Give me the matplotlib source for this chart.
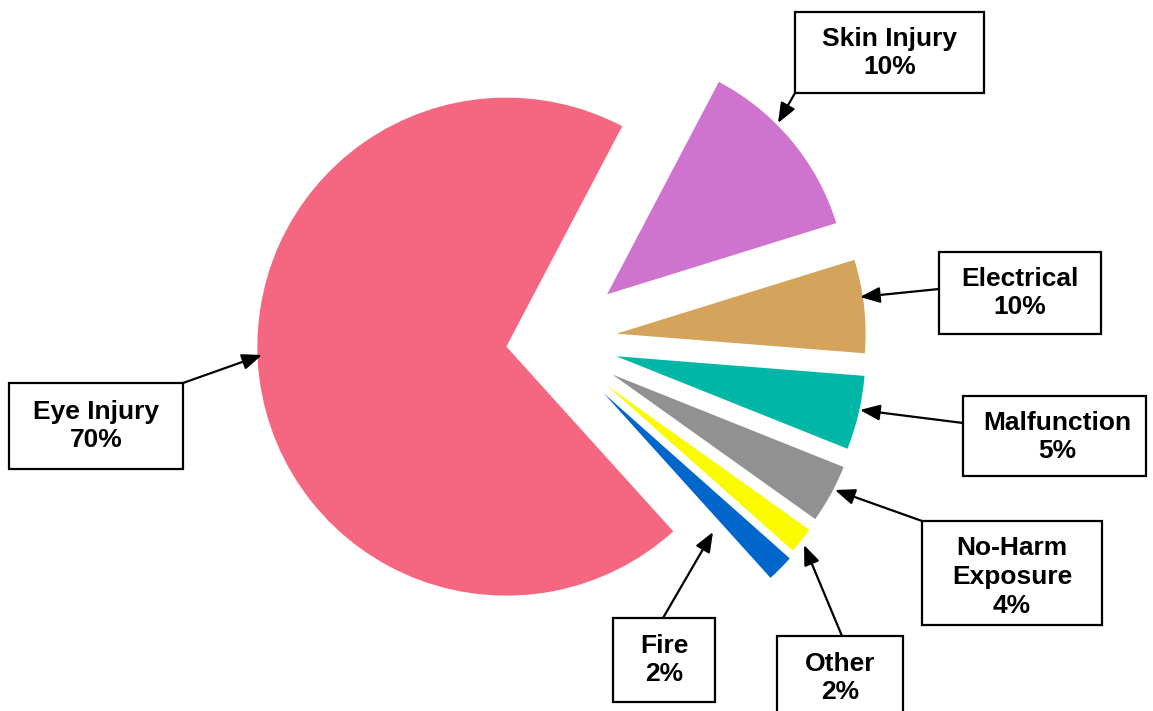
import matplotlib.pyplot as plt
from matplotlib.patches import Rectangle

# slices, listed clockwise on screen starting from the lower right
categories = ['Fire', 'Other', 'No-Harm\nExposure', 'Malfunction', 'Electrical', 'Skin Injury', 'Eye Injury']
shares = [1.75, 1.7, 3.8, 4.8, 6.05, 12.5, 69.4]
pct_labels = ['2%', '2%', '4%', '5%', '10%', '10%', '70%']
colors = ['#0066CC', '#FAFA00', '#919191', '#00B7A6', '#D4A45C', '#CE73CE', '#F56780']
# pie() shifts wedges by explode in data units (pixels here)
explode = [74, 71, 70, 67, 66, 73, 45]

# label boxes (x0, y0, x1, y1 in pixels), text centre, arrow start, arrow tip
boxes = [
    (613, 618, 715, 702), (777, 636, 903, 725), (922, 521, 1102, 625),
    (963, 396, 1146, 476), (939, 252, 1101, 334), (795, 12, 984, 93),
    (9, 383, 183, 469),
]
text_pos = [(664, 660), (840, 678), (1012, 577), (1057, 437), (1020, 293), (890, 53), (96, 426)]
arrow_from = [(663, 618), (842, 636), (922, 521), (963, 423), (939, 289), (795, 93), (183, 383)]
arrow_to = [(713, 532), (804, 545), (835, 490), (860, 410), (860, 297), (778, 123), (262, 355)]

W, H = 1153, 711
fig = plt.figure(figsize=(W / 100, H / 100), dpi=100)
ax = fig.add_axes([0, 0, 1, 1])

# y axis runs downward, so clockwise in data space is counterclockwise on screen
wedges, _ = ax.pie(shares, explode=explode, colors=colors, center=(551, 341), radius=249,
                   startangle=47.9, counterclock=False, frame=True,
                   wedgeprops=dict(linewidth=0))
wedges[5].set_radius(240)  # skin slice is drawn a little smaller

ax.set_xlim(0, W)
ax.set_ylim(H, 0)
ax.set_aspect('equal')
ax.axis('off')

for name, pct, b, tp, a0, a1 in zip(categories, pct_labels, boxes, text_pos, arrow_from, arrow_to):
    ax.add_patch(Rectangle((b[0], b[1]), b[2] - b[0], b[3] - b[1],
                           facecolor='white', edgecolor='black', lw=1.6, zorder=3))
    ax.text(tp[0], tp[1], name + '\n' + pct, ha='center', va='center',
            fontsize=19, fontweight='bold', family=['Liberation Sans', 'DejaVu Sans'],
            linespacing=1.25, zorder=4)
    ax.annotate('', xy=a1, xytext=a0,
                arrowprops=dict(arrowstyle='-|>,head_length=0.8,head_width=0.32',
                                mutation_scale=15, color='black', lw=1.6,
                                shrinkA=0, shrinkB=0), zorder=5)

fig.savefig('out.png', dpi=100)
